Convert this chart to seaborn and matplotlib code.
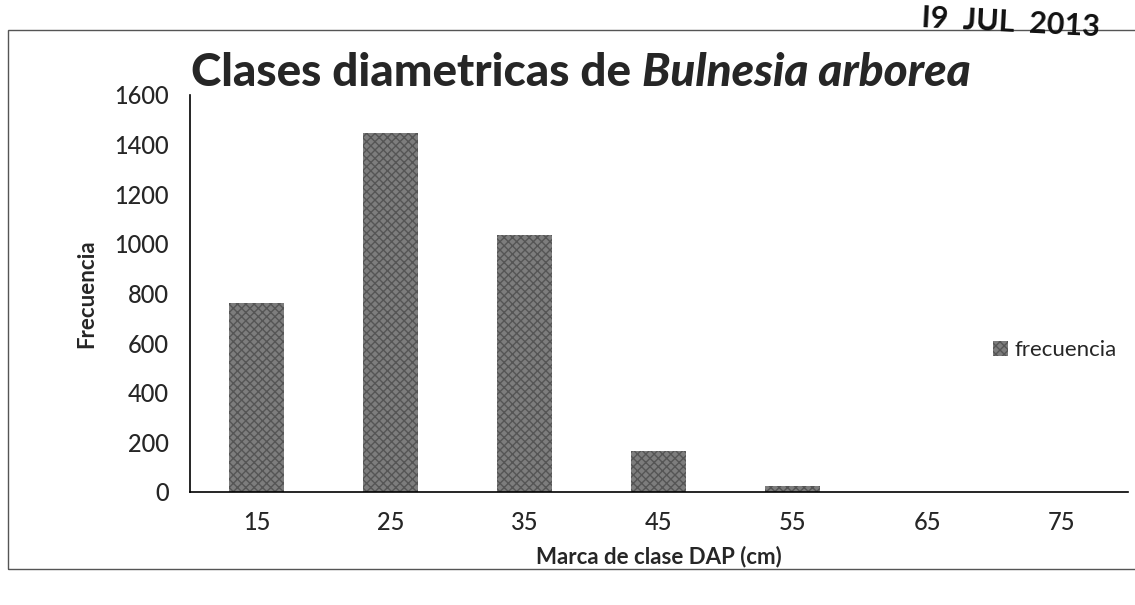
import pandas as pd
import seaborn as sns
import matplotlib.pyplot as plt
from matplotlib.patches import Rectangle

# Data
clases = ['15', '25', '35', '45', '55', '65', '75']
frecuencia = [762, 1445, 1035, 165, 25, 0, 0]
y_ticks = [0, 200, 400, 600, 800, 1000, 1200, 1400, 1600]

df = pd.DataFrame({'clase': clases, 'frecuencia': frecuencia})

sns.set_style('white')
plt.rcParams['font.family'] = ['Lato', 'DejaVu Sans']

fig = plt.figure(figsize=(11.35, 6.05), dpi=100)
ax = fig.add_axes([0.167, 0.187, 0.827, 0.656])

sns.barplot(data=df, x='clase', y='frecuencia', ax=ax, color='#7d7d7d',
            width=0.41, saturation=1, label='frecuencia')
for bar in ax.patches:
    bar.set_hatch('xxxx')
    bar.set_edgecolor('#555555')
    bar.set_linewidth(0)

# Axes styling, Excel-like
ax.set_ylim(0, 1600)
ax.set_xlim(-0.5, len(clases) - 0.5)
ax.set_yticks(y_ticks)
ax.set_yticklabels([str(v) for v in y_ticks], fontsize=17, fontweight='medium')
ax.set_xticks([i - 0.5 for i in range(len(clases) + 1)])
ax.set_xticklabels([])
ax.set_xticks(range(len(clases)), minor=True)
ax.set_xticklabels(clases, minor=True, fontsize=17, fontweight='medium')
ax.tick_params(axis='x', which='major', direction='out', length=6, width=1, color='black')
ax.tick_params(axis='x', which='minor', length=0, pad=14)
ax.tick_params(axis='y', direction='out', length=5, width=1, color='black', pad=10)

for side in ['top', 'right']:
    ax.spines[side].set_visible(False)
for side in ['left', 'bottom']:
    ax.spines[side].set_color('black')
    ax.spines[side].set_linewidth(1.2)

ax.set_xlabel('Marca de clase DAP (cm)', fontsize=16, fontweight='bold', labelpad=8)
ax.set_ylabel('Frecuencia', fontsize=16, fontweight='bold', labelpad=12)

# Title with italic species name, second part placed right after the first
t1 = fig.text(0.168, 0.858, 'Clases diametricas de ', fontsize=33, fontweight='black',
              ha='left', va='baseline')
fig.canvas.draw()
bb = t1.get_window_extent(renderer=fig.canvas.get_renderer())
x_next = bb.x1 / fig.bbox.width
fig.text(x_next, 0.858, 'Bulnesia arborea', fontsize=33, fontweight='black', style='italic',
         ha='left', va='baseline')

ax.legend(loc='center left', bbox_to_anchor=(0.857, 0.421), bbox_transform=fig.transFigure,
          frameon=False, fontsize=16, handlelength=0.7, handleheight=0.7, handletextpad=0.3)

# Chart border and date stamp from the scan
fig.patches.append(Rectangle((0.007, 0.06), 1.2, 0.89, transform=fig.transFigure,
                             fill=False, edgecolor='#555555', linewidth=1))
fig.text(0.97, 0.962, 'I9  JUL  2013', fontsize=22, fontweight='bold', ha='right', va='center',
         rotation=-3, color='#111111')

fig.savefig('out.png', dpi=100, facecolor='white')
